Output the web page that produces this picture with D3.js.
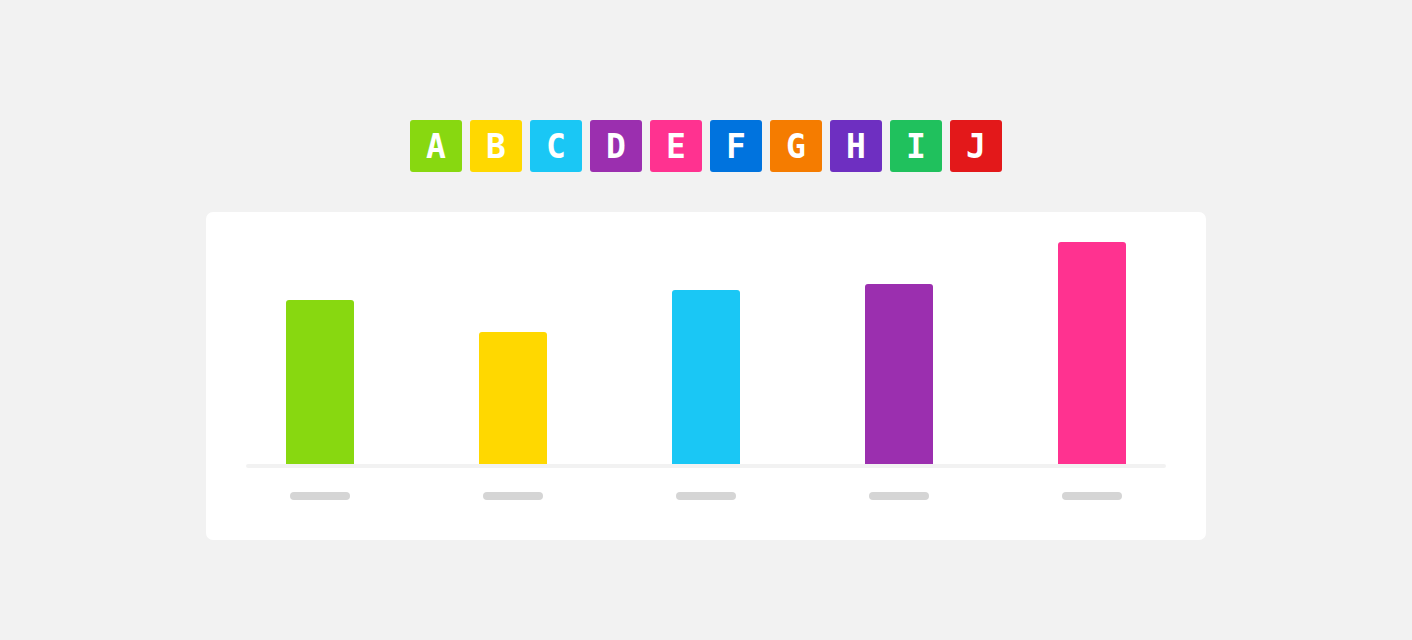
<!DOCTYPE html>
<html><head><meta charset="utf-8">
<script src="https://cdn.jsdelivr.net/npm/d3@7"></script>
<style>html,body{margin:0;padding:0;background:#f2f2f2;}svg{display:block;}</style>
</head><body>
<svg id="c" width="1412" height="640"></svg>
<script>
const legendKeys = ["A","B","C","D","E","F","G","H","I","J"];
const legendColors = ["#88d810","#ffd800","#1ac7f5","#9b2faf","#ff3290","#0073de","#f57c00","#6e2fc1","#20c15d","#e3181a"];
const categories = ["A","B","C","D","E"];
const values = [164, 132, 174, 180, 222];

const svg = d3.select("#c");
svg.append("rect").attr("width",1412).attr("height",640).attr("fill","#f2f2f2");

// legend
const lx = d3.scaleBand().domain(legendKeys).range([410, 1002]).paddingInner(8/60);
const lg = svg.append("g").selectAll("g").data(legendKeys).join("g")
  .attr("transform", d => `translate(${lx(d)},120)`);
lg.append("rect").attr("width", lx.bandwidth()).attr("height", 52).attr("rx", 3)
  .attr("fill", (d,i) => legendColors[i]);
lg.append("text").attr("x", lx.bandwidth()/2).attr("y", 38).attr("text-anchor","middle")
  .attr("fill","#fff").attr("font-family","'DejaVu Sans Mono', monospace").attr("font-weight","bold")
  .attr("font-size", 33).text(d => d);

// card
svg.append("rect").attr("x",206).attr("y",212).attr("width",1000).attr("height",328).attr("rx",7).attr("fill","#fff");

const x = d3.scalePoint().domain(categories).range([246, 1166]).padding(74/193);
const y = d3.scaleLinear().domain([0, 250]).range([464, 214]);
const bw = 68, r = 3;

svg.append("g").selectAll("path").data(categories).join("path")
  .attr("fill", (d,i) => legendColors[i])
  .attr("d", (d,i) => {
    const x0 = Math.round(x(d) - bw/2 + 0.4), x1 = x0 + bw, y0 = y(values[i]), yb = y(0);
    return `M${x0},${yb}V${y0+r}Q${x0},${y0} ${x0+r},${y0}H${x1-r}Q${x1},${y0} ${x1},${y0+r}V${yb}Z`;
  });

// axis line
svg.append("rect").attr("x",246).attr("y",464).attr("width",920).attr("height",4).attr("rx",2).attr("fill","#f2f2f2");

// placeholder labels
svg.append("g").selectAll("rect").data(categories).join("rect")
  .attr("x", d => Math.round(x(d) - 30 + 0.4)).attr("y", 492).attr("width", 60).attr("height", 8).attr("rx", 4)
  .attr("fill", "#d5d5d5");
</script>
</body></html>
